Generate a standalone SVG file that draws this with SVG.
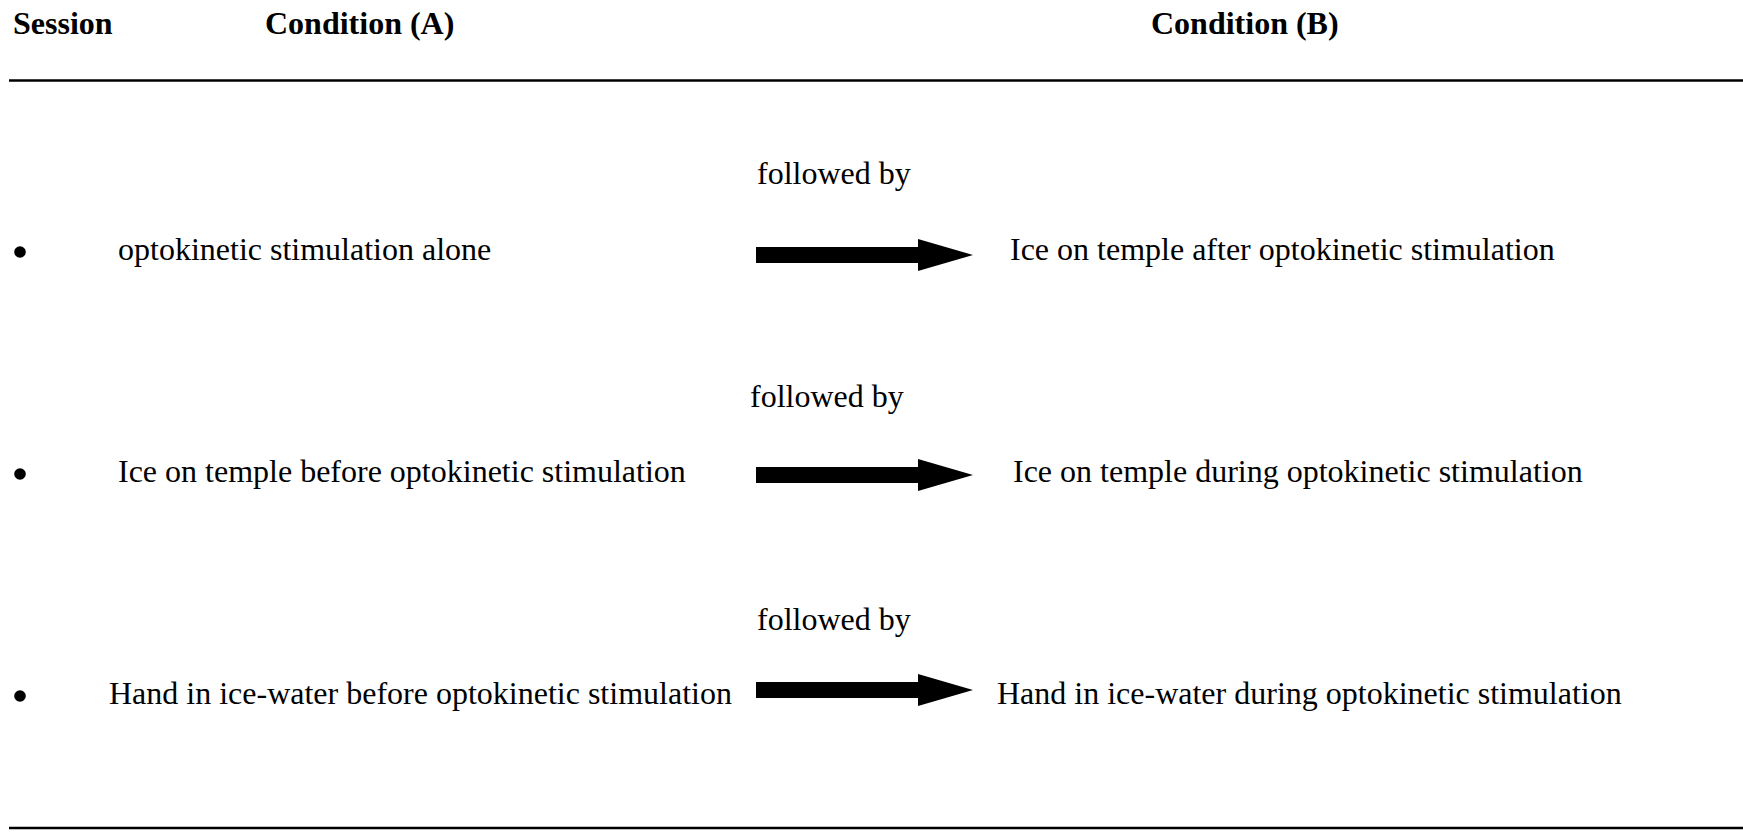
<svg xmlns="http://www.w3.org/2000/svg" width="1743" height="833" viewBox="0 0 1743 833">
<defs>
<style>
.h{font-family:"Liberation Serif","Times New Roman",serif;font-weight:bold;font-size:32px;fill:#000}
.t{font-family:"Liberation Serif","Times New Roman",serif;font-size:32px;fill:#000}
.rule{stroke:#000;stroke-width:2.5}
.arrow{fill:#000}
</style>
</defs>
<rect width="1743" height="833" fill="#fff"/>
<g id="header">
<text class="h" x="13" y="34">Session</text>
<text class="h" x="265" y="34">Condition (A)</text>
<text class="h" x="1151" y="34">Condition (B)</text>
<line class="rule" x1="9" y1="80.5" x2="1743" y2="80.5"/>
</g>
<g id="row1">
<circle cx="20" cy="252" r="5.8"/>
<text class="t" x="118" y="260">optokinetic stimulation alone</text>
<text class="t" x="757" y="184">followed by</text>
<text class="t" x="1010" y="260">Ice on temple after optokinetic stimulation</text>
</g>
<g id="row2">
<circle cx="20" cy="474" r="5.8"/>
<text class="t" x="118" y="482">Ice on temple before optokinetic stimulation</text>
<text class="t" x="750" y="407">followed by</text>
<text class="t" x="1013" y="482">Ice on temple during optokinetic stimulation</text>
</g>
<g id="row3">
<circle cx="20" cy="696" r="5.8"/>
<text class="t" x="109" y="704">Hand in ice-water before optokinetic stimulation</text>
<text class="t" x="757" y="630">followed by</text>
<text class="t" x="997" y="704">Hand in ice-water during optokinetic stimulation</text>
</g>
<g id="connectors">
<path class="arrow" d="M756,247 H918 V239 L973,255 L918,271 V263 H756 Z"/>
<path class="arrow" d="M756,467 H918 V459 L973,475 L918,491 V483 H756 Z"/>
<path class="arrow" d="M756,682 H918 V674 L973,690 L918,706 V698 H756 Z"/>
</g>
<line class="rule" x1="9" y1="828" x2="1743" y2="828"/>
</svg>
